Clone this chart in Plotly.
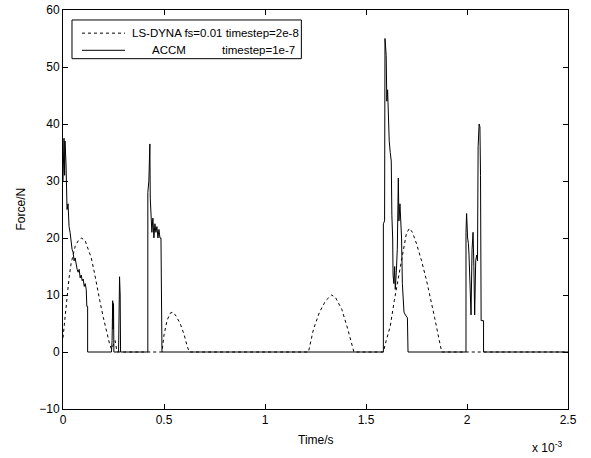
import plotly.graph_objects as go

# Time in units of 1e-3 s
t_ls = [0.000, 0.010, 0.020, 0.030, 0.040, 0.050, 0.060, 0.075, 0.090, 0.100, 0.110, 0.125, 0.140,
        0.155, 0.170, 0.185, 0.200, 0.215, 0.230, 0.240, 0.250, 0.258, 0.265, 0.270,
        0.490, 0.500, 0.515, 0.530, 0.545, 0.560, 0.580, 0.600, 0.615, 0.625,
        1.215, 1.240, 1.270, 1.300, 1.330, 1.350, 1.380, 1.410, 1.440,
        1.586, 1.600, 1.620, 1.640, 1.655, 1.670, 1.685, 1.700, 1.715, 1.730, 1.750, 1.775,
        1.800, 1.820, 1.840, 1.860, 1.875, 2.500]
f_ls = [2.5, 6, 10, 13, 15.5, 17, 18.5, 19.5, 20, 19.8, 19.5, 18, 16.5,
        14, 11, 8.5, 6, 3.5, 1.5, 0.5, 1.5, 2, 0.5, 0,
        0, 3, 5.5, 6.8, 7, 6.3, 5, 3, 1, 0,
        0, 4, 7, 9, 10, 9.5, 7.5, 4, 0,
        0, 2, 4.5, 9, 12, 15, 18.5, 20.8, 21.7, 21, 19, 16,
        12.5, 9.5, 6, 2.5, 0, 0]

t_accm = [0.000, 0.005, 0.008, 0.010, 0.015, 0.020, 0.025, 0.030, 0.035, 0.040, 0.045, 0.050,
          0.055, 0.060, 0.065, 0.070, 0.075, 0.080, 0.085, 0.090, 0.095, 0.100, 0.105, 0.110,
          0.115, 0.118, 0.122, 0.122,
          0.240, 0.243, 0.246, 0.248, 0.250, 0.252,
          0.275, 0.277, 0.280, 0.283, 0.285,
          0.420, 0.420, 0.425, 0.430, 0.432, 0.435, 0.440, 0.445, 0.450, 0.455, 0.460, 0.465,
          0.470, 0.475, 0.480, 0.485, 0.488, 0.490, 0.490,
          1.586, 1.586, 1.592, 1.594, 1.600, 1.603, 1.607, 1.610, 1.615, 1.620, 1.625, 1.628,
          1.632, 1.634, 1.638, 1.642, 1.645, 1.650, 1.655, 1.660, 1.663, 1.668, 1.672, 1.676,
          1.680, 1.688, 1.695, 1.705, 1.708,
          1.995, 1.995, 1.998, 2.003, 2.007, 2.010, 2.015, 2.020, 2.025, 2.030, 2.034, 2.038,
          2.043, 2.048, 2.052, 2.055, 2.060, 2.064, 2.067, 2.070, 2.082, 2.082, 2.500]
f_accm = [30, 37.5, 31, 37, 33, 25, 26, 22, 21, 19, 18, 17.5,
          16, 16.5, 15, 14.5, 14, 14.5, 13, 13.5, 12.5, 12.8, 11.5, 12,
          11, 8, 8, 0,
          0, 2, 9, 4, 8.5, 0,
          0, 12, 13.2, 10, 0,
          0, 28, 30, 36.5, 27, 25, 21, 23.5, 20, 22.5, 21, 22,
          20, 21.5, 20, 20, 10, 10, 0,
          0, 22.5, 23, 55, 52, 44, 46, 40, 37, 35, 33.5, 24,
          20, 13.5, 12, 15, 11, 14, 18, 30.5, 23, 26, 22, 20,
          12, 7, 6.5, 6, 0,
          0, 21, 24.3, 20, 19, 17, 12, 6.5, 18, 21, 15, 6.5,
          16, 17, 16, 36, 40, 39.5, 31, 5.5, 5.5, 0, 0]

x_ticks = [0, 0.5, 1, 1.5, 2, 2.5]
y_ticks = [-10, 0, 10, 20, 30, 40, 50, 60]
legend_ls = "LS-DYNA fs=0.01 timestep=2e-8"
legend_accm_name = "ACCM"
legend_accm_step = "timestep=1e-7"

fig = go.Figure()
fig.add_trace(go.Scatter(x=t_ls, y=f_ls, mode="lines", name=legend_ls,
                         line=dict(color="black", width=1, dash="dot"), showlegend=False))
fig.add_trace(go.Scatter(x=t_accm, y=f_accm, mode="lines", name=legend_accm_name,
                         line=dict(color="black", width=1), showlegend=False))

axis_common = dict(showline=True, linecolor="black", linewidth=1, mirror="ticks",
                   ticks="inside", ticklen=5, tickcolor="black", showgrid=False,
                   zeroline=False, automargin=False, ticklabeloverflow="allow",
                   tickfont=dict(size=12, color="black"))

fig.update_layout(
    width=591, height=458, autosize=False,
    margin=dict(l=63, r=23, t=10, b=49, autoexpand=False),
    paper_bgcolor="white", plot_bgcolor="white",
    font=dict(family="Liberation Sans, Arial, sans-serif", size=12, color="black"),
    xaxis=dict(range=[0, 2.5], tickvals=x_ticks, ticktext=[str(v) for v in x_ticks],
               **axis_common),
    yaxis=dict(range=[-10, 60], tickvals=y_ticks, **axis_common),
    showlegend=False,
)

# Hand-drawn legend box (MATLAB style)
fig.add_shape(type="rect", xref="paper", yref="paper", x0=0.0178, x1=0.472,
              y0=0.878, y1=0.975, line=dict(color="black", width=1), fillcolor="white",
              layer="above")
fig.add_shape(type="line", xref="paper", yref="paper", x0=0.0376, x1=0.1228,
              y0=0.942, y1=0.942, line=dict(color="black", width=1, dash="dot"), layer="above")
fig.add_shape(type="line", xref="paper", yref="paper", x0=0.0376, x1=0.1228,
              y0=0.899, y1=0.899, line=dict(color="black", width=1), layer="above")
fig.add_annotation(x=0.1327, y=0.942, xref="paper", yref="paper", xanchor="left",
                   yanchor="middle", showarrow=False, text=legend_ls, font=dict(size=11.5))
fig.add_annotation(x=0.172, y=0.899, xref="paper", yref="paper", xanchor="left",
                   yanchor="middle", showarrow=False, text=legend_accm_name, font=dict(size=11.5))
fig.add_annotation(x=0.4634, y=0.899, xref="paper", yref="paper", xanchor="right",
                   yanchor="middle", showarrow=False, text=legend_accm_step, font=dict(size=11.5))

fig.add_annotation(x=0.5, y=0, xref="paper", yref="paper", xanchor="center", yanchor="top",
                   yshift=-22, showarrow=False, text="Time/s", font=dict(size=12))
fig.add_annotation(x=0, y=0.5, xref="paper", yref="paper", xanchor="right", yanchor="middle",
                   xshift=-34, showarrow=False, text="Force/N", textangle=-90,
                   font=dict(size=12))
fig.add_annotation(x=1, y=0, xref="paper", yref="paper", xanchor="right", yanchor="top",
                   yshift=-28, xshift=-4, showarrow=False,
                   text="x 10<sup>-3</sup>", font=dict(size=12))

fig.write_html("out.html", config={"displayModeBar": False},
               post_script="document.body.style.margin='0';document.body.style.padding='0';")
